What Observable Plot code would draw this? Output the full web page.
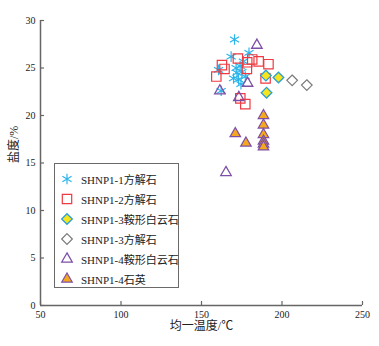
<!DOCTYPE html>
<html>
<head>
<meta charset="utf-8">
<script src="https://cdn.jsdelivr.net/npm/d3@7"></script>
<script src="https://cdn.jsdelivr.net/npm/@observablehq/plot@0.6"></script>
<style>
  body { margin: 0; background: #fff; }
  #wrap { position: relative; width: 379px; height: 346px; }
  #legend { position: absolute; left: 54px; top: 163px; width: 123px; height: 123px;
    border: 1.5px solid #6a6a6a; background: #fff; box-sizing: content-box;
    font-family: "Liberation Serif", "Noto Sans CJK SC", serif; font-size: 11px; color: #222; }
  .row { position: absolute; left: 0; height: 16px; display: flex; align-items: center; white-space: nowrap; }
  .row svg { margin-left: 4px; margin-right: 6px; flex: none; }
</style>
</head>
<body>
<div id="wrap"></div>
<script>
const xTicks = [50, 100, 150, 200, 250];
const yTicks = [0, 5, 10, 15, 20, 25, 30];
const seriesNames = ["SHNP1-1方解石", "SHNP1-2方解石", "SHNP1-3鞍形白云石", "SHNP1-3方解石", "SHNP1-4鞍形白云石", "SHNP1-4石英"];
const xLabel = "均一温度/℃";
const yLabel = "盐度/%";

const s1x = [170.5, 179.5, 168.4, 174.0, 172.0, 175.1, 173.0, 177.2, 169.9, 160.6, 162.2, 176.0, 171.5, 174.5];
const s1y = [28.0, 26.6, 26.2, 25.2, 24.5, 24.6, 23.8, 24.1, 23.9, 24.8, 22.6, 25.7, 25.0, 23.3];
const s2x = [172.6, 181.5, 178.4, 185.5, 191.6, 162.7, 164.3, 178.2, 159.2, 189.8, 174.1, 177.2];
const s2y = [26.0, 25.9, 25.6, 25.7, 25.4, 25.3, 24.9, 24.9, 24.1, 23.9, 21.8, 21.2];
const s3x = [190.0, 197.8, 190.4];
const s3y = [24.2, 24.0, 22.4];
const s4x = [206.3, 215.4];
const s4y = [23.7, 23.2];
const s5x = [184.4, 161.4, 178.6, 173.2, 165.2];
const s5y = [27.4, 22.6, 23.4, 21.9, 14.0];
const s6x = [188.5, 188.5, 188.5, 188.5, 188.5, 188.5, 171.0, 177.6];
const s6y = [20.0, 19.0, 18.0, 17.3, 17.0, 16.7, 18.1, 17.1];

const styles = [
  {symbol: "asterisk", fill: "none", stroke: "#2bb5ea", r: 5.0, sw: 1.2},
  {symbol: "square", fill: "none", stroke: "#ee3a42", r: 5.3, sw: 1.2},
  {symbol: "diamond2", fill: "#f6e51c", stroke: "#2a9fd8", r: 4.8, sw: 1.3},
  {symbol: "diamond2", fill: "none", stroke: "#7a7a7a", r: 4.8, sw: 1.2},
  {symbol: "triangle", fill: "none", stroke: "#7d4fa6", r: 3.9, sw: 1.3},
  {symbol: "triangle", fill: "#f4a81f", stroke: "#7d4fa6", r: 3.9, sw: 1.2}
];
const xs = [s1x, s2x, s3x, s4x, s5x, s6x];
const ys = [s1y, s2y, s3y, s4y, s5y, s6y];
const series = xs.map((xa, i) => xa.map((x, j) => ({x, y: ys[i][j]})));

const font = "Liberation Serif, Noto Sans CJK SC, serif";
const plot = Plot.plot({
  width: 379, height: 346,
  marginLeft: 40, marginRight: 17, marginTop: 20, marginBottom: 41,
  style: {fontFamily: font, fontSize: "10px", color: "#222", background: "#fff"},
  x: {domain: [50, 250]},
  y: {domain: [0, 30]},
  marks: [
    Plot.axisX({ticks: xTicks, tickSize: 0, tickPadding: 5, label: null}),
    Plot.axisY({ticks: yTicks, tickSize: 0, tickPadding: 5, label: null}),
    Plot.axisX({ticks: xTicks, tickSize: -4, tickFormat: () => "", label: null, stroke: "#666", strokeWidth: 1.2}),
    Plot.axisY({ticks: yTicks, tickSize: -4, tickFormat: () => "", label: null, stroke: "#666", strokeWidth: 1.2}),
    Plot.ruleX([50], {stroke: "#666", strokeWidth: 1.5}),
    Plot.ruleY([0], {stroke: "#666", strokeWidth: 1.5}),
    ...series.map((d, i) => Plot.dot(d, {x: "x", y: "y", symbol: () => styles[i].symbol, r: styles[i].r,
      fill: styles[i].fill, stroke: styles[i].stroke, strokeWidth: styles[i].sw})),
    Plot.text([xLabel], {frameAnchor: "bottom", dy: 24, fontSize: 12, fill: "#222"}),
    Plot.text([yLabel], {frameAnchor: "left", dx: -26, rotate: -90, fontSize: 12, fill: "#222"})
  ]
});
const wrap = document.getElementById("wrap");
wrap.appendChild(plot);

const legend = document.createElement("div");
legend.id = "legend";
const symMap = {asterisk: d3.symbolAsterisk, square: d3.symbolSquare, diamond2: d3.symbolDiamond2, triangle: d3.symbolTriangle};
seriesNames.forEach((name, i) => {
  const row = document.createElement("div");
  row.className = "row";
  row.style.top = (7 + i * 20) + "px";
  const st = styles[i];
  const size = Math.PI * st.r * st.r;
  const path = d3.symbol(symMap[st.symbol], size)();
  row.innerHTML = `<svg width="16" height="16" viewBox="-8 -8 16 16"><path d="${path}" fill="${st.fill}" stroke="${st.stroke}" stroke-width="${st.sw}"/></svg><span>${name}</span>`;
  legend.appendChild(row);
});
wrap.appendChild(legend);
</script>
</body>
</html>
